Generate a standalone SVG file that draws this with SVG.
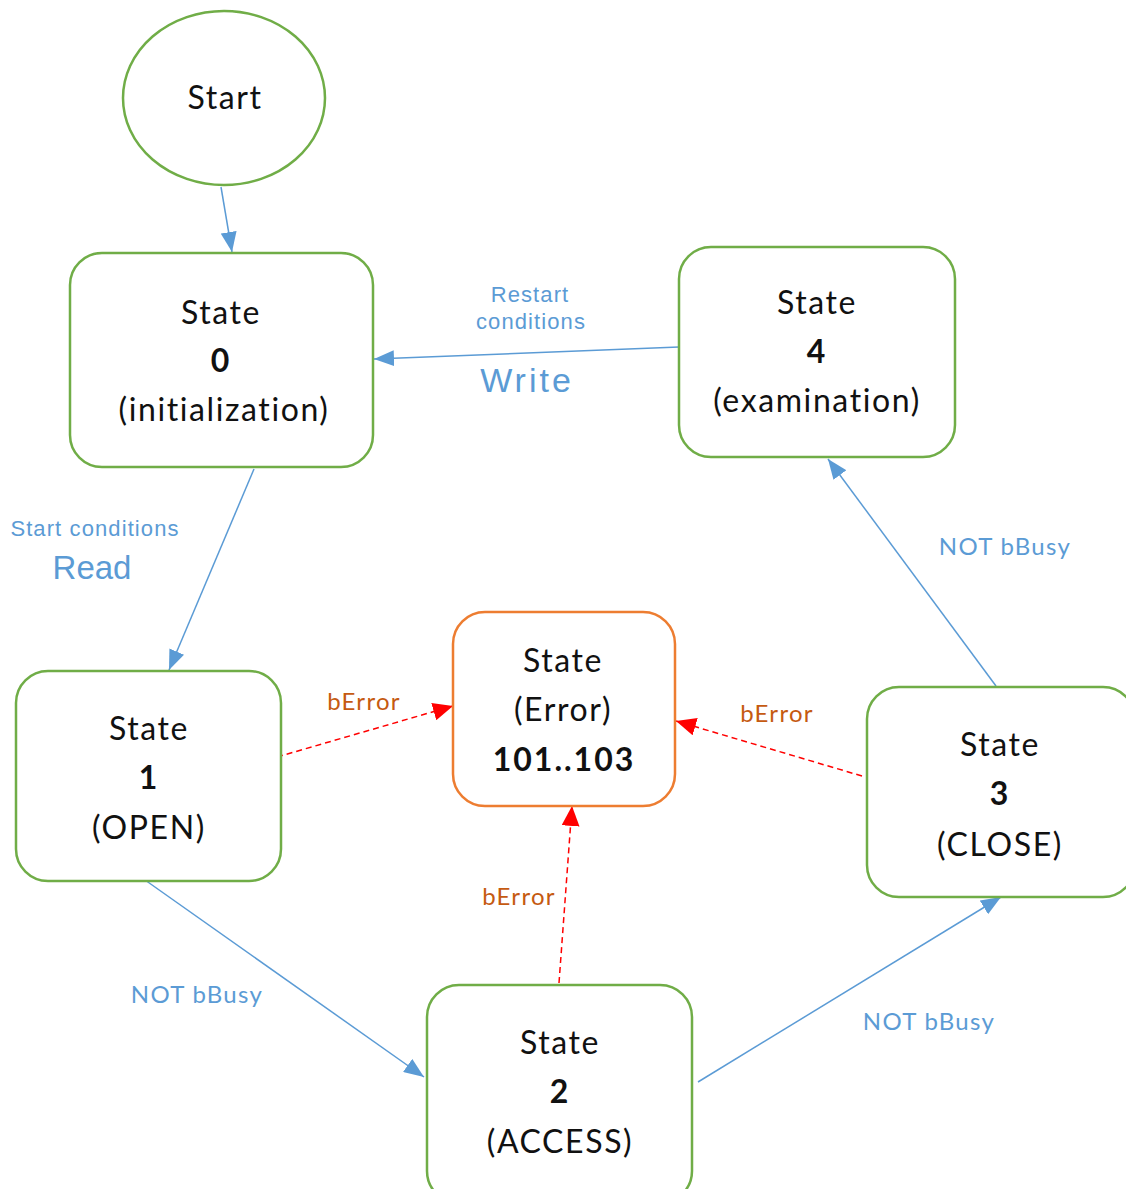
<svg xmlns="http://www.w3.org/2000/svg" width="1126" height="1189" viewBox="0 0 1126 1189">
<style>
.node{fill:#fff;stroke:#70ad47;stroke-width:2.5}
.err{fill:#fff;stroke:#ed7d31;stroke-width:2.5}
.t{font-family:Lato,"Open Sans",sans-serif;font-size:32px;fill:#111;text-anchor:middle;letter-spacing:1.6px}
.b{font-weight:bold;letter-spacing:2px}
.blue{stroke:#5b9bd5;stroke-width:1.5;fill:none}
.red{stroke:#ff0000;stroke-width:1.5;stroke-dasharray:6 4;fill:none}
.lb{font-family:"Liberation Sans",Arial,sans-serif;fill:#5b9bd5;text-anchor:middle}
.ll{font-family:Lato,"Open Sans",sans-serif;font-size:24px;text-anchor:middle;letter-spacing:1.3px}
</style>
<defs>
<marker id="ab" viewBox="0 0 20 16" refX="20" refY="8" markerWidth="20" markerHeight="16" markerUnits="userSpaceOnUse" orient="auto"><path d="M0,0L20,8L0,16z" fill="#5b9bd5"/></marker>
<marker id="ar" viewBox="0 0 20 18" refX="20" refY="9" markerWidth="20" markerHeight="18" markerUnits="userSpaceOnUse" orient="auto"><path d="M0,0L20,9L0,18z" fill="#ff0000"/></marker>
</defs>
<g id="connectors">
<line class="blue" x1="221" y1="187" x2="232" y2="252" marker-end="url(#ab)"/>
<line class="blue" x1="679" y1="347" x2="374" y2="359" marker-end="url(#ab)"/>
<line class="blue" x1="254" y1="469" x2="169" y2="670" marker-end="url(#ab)"/>
<line class="blue" x1="145" y1="880" x2="424" y2="1077" marker-end="url(#ab)"/>
<line class="blue" x1="698" y1="1082" x2="1001" y2="897" marker-end="url(#ab)"/>
<line class="blue" x1="996" y1="686" x2="828" y2="459" marker-end="url(#ab)"/>
<line class="red" x1="277" y1="757" x2="453" y2="706" marker-end="url(#ar)"/>
<line class="red" x1="862" y1="776" x2="676" y2="721" marker-end="url(#ar)"/>
<line class="red" x1="559" y1="983" x2="572" y2="806" marker-end="url(#ar)"/>
<text class="lb" x="530" y="302" font-size="22" letter-spacing="1.1">Restart</text>
<text class="lb" x="531" y="329" font-size="22" letter-spacing="1.1">conditions</text>
<text class="lb" x="527" y="392" font-size="34" letter-spacing="3">Write</text>
<text class="lb" x="95" y="536" font-size="22" letter-spacing="1.1">Start conditions</text>
<text class="lb" x="92" y="579" font-size="33">Read</text>
<text class="ll" x="1005" y="555" fill="#5b9bd5">NOT bBusy</text>
<text class="ll" x="197" y="1003" fill="#5b9bd5">NOT bBusy</text>
<text class="ll" x="929" y="1030" fill="#5b9bd5">NOT bBusy</text>
<text class="ll" x="364" y="710" fill="#c55a11" letter-spacing="1.6">bError</text>
<text class="ll" x="777" y="722" fill="#c55a11" letter-spacing="1.6">bError</text>
<text class="ll" x="519" y="905" fill="#c55a11" letter-spacing="1.6">bError</text>
</g>
<g id="start">
<ellipse class="node" cx="224" cy="98" rx="101" ry="87"/>
<text class="t" x="225" y="109">Start</text>
</g>
<g id="state0">
<rect class="node" x="70" y="253" width="303" height="214" rx="32"/>
<text class="t" x="221" y="324">State</text>
<text class="t b" x="221" y="372">0</text>
<text class="t" x="224" y="421">(initialization)</text>
</g>
<g id="state4">
<rect class="node" x="679" y="247" width="276" height="210" rx="32"/>
<text class="t" x="817" y="314">State</text>
<text class="t b" x="817" y="363">4</text>
<text class="t" x="817" y="412">(examination)</text>
</g>
<g id="stateError">
<rect class="err" x="453" y="612" width="222" height="194" rx="32"/>
<text class="t" x="563" y="672">State</text>
<text class="t" x="563" y="721">(Error)</text>
<text class="t b" x="564" y="771">101..103</text>
</g>
<g id="state1">
<rect class="node" x="16" y="671" width="265" height="210" rx="32"/>
<text class="t" x="149" y="740">State</text>
<text class="t b" x="149" y="789">1</text>
<text class="t" x="149" y="839">(OPEN)</text>
</g>
<g id="state3">
<rect class="node" x="867" y="687" width="268" height="210" rx="32"/>
<text class="t" x="1000" y="756">State</text>
<text class="t b" x="1000" y="805">3</text>
<text class="t" x="1000" y="856">(CLOSE)</text>
</g>
<g id="state2">
<rect class="node" x="427" y="985" width="265" height="218" rx="32"/>
<text class="t" x="560" y="1054">State</text>
<text class="t b" x="560" y="1103">2</text>
<text class="t" x="560" y="1153">(ACCESS)</text>
</g>
</svg>
